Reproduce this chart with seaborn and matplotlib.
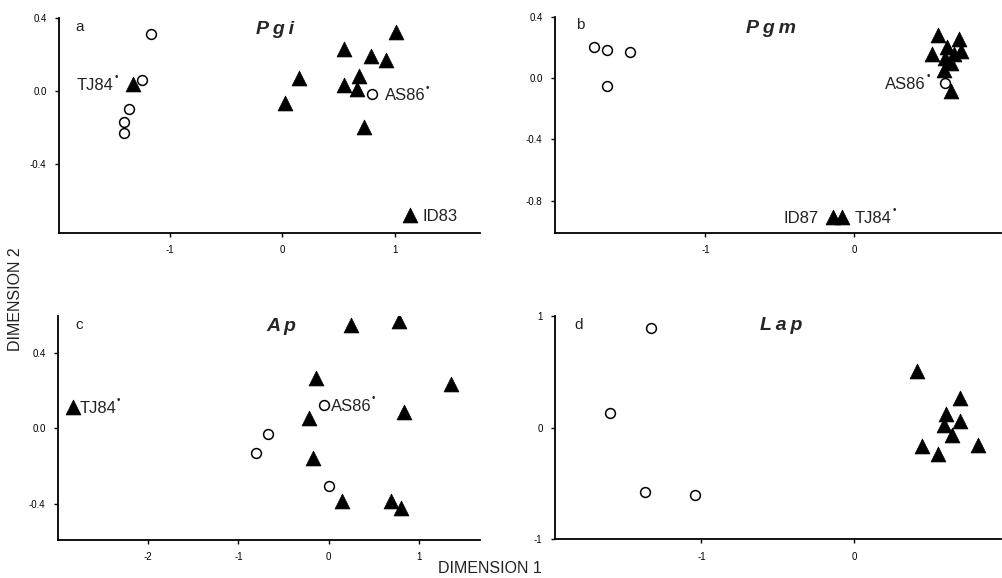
import matplotlib
matplotlib.use('Agg')
import matplotlib.pyplot as plt
import seaborn as sns
import pandas as pd

sns.set_style('ticks')
plt.rcParams['font.family'] = ['Liberation Sans', 'DejaVu Sans']
plt.rcParams['axes.unicode_minus'] = False

# Panel a - Pgi
pgi_circle_x = [-1.17, -1.25, -1.37, -1.41, -1.41, 0.80]
pgi_circle_y = [0.31, 0.06, -0.10, -0.17, -0.23, -0.02]
pgi_tri_x = [-1.33, 0.02, 0.15, 0.55, 0.55, 0.68, 0.66, 0.79, 0.92, 1.01, 0.73, 1.14]
pgi_tri_y = [0.04, -0.065, 0.07, 0.23, 0.03, 0.083, 0.01, 0.19, 0.17, 0.32, -0.20, -0.68]

# Panel b - Pgm
pgm_circle_x = [-1.75, -1.66, -1.51, -1.66, 0.61]
pgm_circle_y = [0.205, 0.18, 0.17, -0.05, -0.03]
pgm_tri_x = [0.565, 0.70, 0.52, 0.62, 0.715, 0.67, 0.61, 0.65, 0.60, 0.65, -0.145, -0.08]
pgm_tri_y = [0.28, 0.254, 0.156, 0.20, 0.178, 0.156, 0.134, 0.10, 0.052, -0.083, -0.907, -0.907]

# Panel c - Ap
ap_circle_x = [-0.67, -0.80, 0.01, -0.055]
ap_circle_y = [-0.032, -0.133, -0.305, 0.124]
ap_tri_x = [-2.84, 0.25, 0.78, -0.14, 1.36, -0.22, 0.84, -0.17, 0.15, 0.69, 0.80]
ap_tri_y = [0.115, 0.549, 0.571, 0.265, 0.233, 0.053, 0.085, -0.156, -0.386, -0.386, -0.425]

# Panel d - Lap
lap_circle_x = [-1.33, -1.60, -1.37, -1.04]
lap_circle_y = [0.895, 0.134, -0.573, -0.603]
lap_tri_x = [0.41, 0.69, 0.60, 0.69, 0.59, 0.64, 0.44, 0.55, 0.81]
lap_tri_y = [0.507, 0.268, 0.125, 0.06, 0.02, -0.066, -0.165, -0.239, -0.158]

# Point labels: (label, x, y, side, star)
pgi_labels = [('TJ84', -1.33, 0.04, 'left', True),
              ('AS86', 0.80, -0.02, 'right', True),
              ('ID83', 1.14, -0.68, 'right', False)]
pgm_labels = [('AS86', 0.61, -0.03, 'left', True),
              ('ID87', -0.145, -0.907, 'left', False),
              ('TJ84', -0.08, -0.907, 'right', True)]
ap_labels = [('TJ84', -2.84, 0.115, 'right', True),
             ('AS86', -0.055, 0.124, 'right', True)]
lap_labels = []

panels = [
    dict(letter='a', title='Pgi', cx=pgi_circle_x, cy=pgi_circle_y, tx=pgi_tri_x, ty=pgi_tri_y,
         labels=pgi_labels, pos=[0.059, 0.597, 0.420, 0.372],
         xlim=(-1.99, 1.76), ylim=(-0.78, 0.40), xticks=[-1, 0, 1], yticks=[-0.4, 0.0, 0.4],
         yfmt='{:.1f}', tpos=(0.513, 0.944), lpos=(0.038, 0.958), lab_off=(10, 12)),
    dict(letter='b', title='Pgm', cx=pgm_circle_x, cy=pgm_circle_y, tx=pgm_tri_x, ty=pgm_tri_y,
         labels=pgm_labels, pos=[0.554, 0.597, 0.445, 0.374],
         xlim=(-2.01, 0.985), ylim=(-1.01, 0.40), xticks=[-1, 0], yticks=[-0.8, -0.4, 0.0, 0.4],
         yfmt='{:.1f}', tpos=(0.485, 0.948), lpos=(0.048, 0.96), lab_off=(10, 12)),
    dict(letter='c', title='Ap', cx=ap_circle_x, cy=ap_circle_y, tx=ap_tri_x, ty=ap_tri_y,
         labels=ap_labels, pos=[0.058, 0.066, 0.421, 0.387],
         xlim=(-3.0, 1.68), ylim=(-0.593, 0.596), xticks=[-2, -1, 0, 1], yticks=[-0.4, 0.0, 0.4],
         yfmt='{:.1f}', tpos=(0.53, 0.952), lpos=(0.04, 0.96), lab_off=(8, 8)),
    dict(letter='d', title='Lap', cx=lap_circle_x, cy=lap_circle_y, tx=lap_tri_x, ty=lap_tri_y,
         labels=lap_labels, pos=[0.554, 0.067, 0.445, 0.386],
         xlim=(-1.957, 0.96), ylim=(-1.0, 1.0), xticks=[-1, 0], yticks=[-1, 0, 1],
         yfmt='{:.0f}', tpos=(0.507, 0.96), lpos=(0.0425, 0.96), lab_off=(10, 12)),
]

fig = plt.figure(figsize=(10.02, 5.78), dpi=100)

for p in panels:
    ax = fig.add_axes(p['pos'])
    circles = pd.DataFrame({'x': p['cx'], 'y': p['cy']})
    tris = pd.DataFrame({'x': p['tx'], 'y': p['ty']})
    sns.scatterplot(data=tris, x='x', y='y', marker='^', s=115, color='black',
                    edgecolor='black', linewidth=0.5, ax=ax, zorder=3)
    sns.scatterplot(data=circles, x='x', y='y', marker='o', s=50, color='white',
                    edgecolor='black', linewidth=1.1, ax=ax, zorder=4)

    # sample labels, with the small dot after TJ84 / AS86
    for lab, x, y, side, star in p['labels']:
        if side == 'left':
            ax.annotate(lab, (x, y), xytext=(-p['lab_off'][0] - (4 if star else 0), 0),
                        textcoords='offset points', ha='right', va='center_baseline',
                        fontsize=12, color='#222222')
            if star:
                ax.annotate('\u2022', (x, y), xytext=(-p['lab_off'][0] - 2, 5),
                            textcoords='offset points', ha='center', va='center',
                            fontsize=7, color='#222222')
        else:
            t = ax.annotate(lab, (x, y), xytext=(p['lab_off'][1] - 3, 0),
                            textcoords='offset points', ha='left', va='center_baseline',
                            fontsize=12, color='#222222')
            if star:
                ax.annotate('\u2022', (1.0, 0.5), xycoords=t, xytext=(1.5, 6),
                            textcoords='offset points', ha='center', va='center',
                            fontsize=7, color='#222222')

    ax.text(p['tpos'][0], p['tpos'][1], '\u2009'.join(p['title']), transform=ax.transAxes,
            ha='center', va='center', fontsize=14, fontweight='bold', fontstyle='italic')
    ax.text(p['lpos'][0], p['lpos'][1], p['letter'], transform=ax.transAxes, ha='left',
            va='center', fontsize=11, color='#222222')

    ax.set_xlim(*p['xlim'])
    ax.set_ylim(*p['ylim'])
    ax.set_xticks(p['xticks'])
    ax.set_xticklabels([str(t) for t in p['xticks']])
    ax.set_yticks(p['yticks'])
    ax.set_yticklabels([p['yfmt'].format(t) for t in p['yticks']])
    ax.set_xlabel('')
    ax.set_ylabel('')
    ax.tick_params(length=3, width=1, labelsize=7, colors='black', pad=6)
    sns.despine(ax=ax)
    for s in ['left', 'bottom']:
        ax.spines[s].set_linewidth(1.3)
        ax.spines[s].set_color('black')

fig.text(0.015, 0.483, 'DIMENSION 2', rotation=90, ha='center', va='center', fontsize=11.5,
         color='#222222')
fig.text(0.489, 0.017, 'DIMENSION 1', ha='center', va='center', fontsize=11.5, color='#222222')

fig.savefig('out.png', dpi=100)
